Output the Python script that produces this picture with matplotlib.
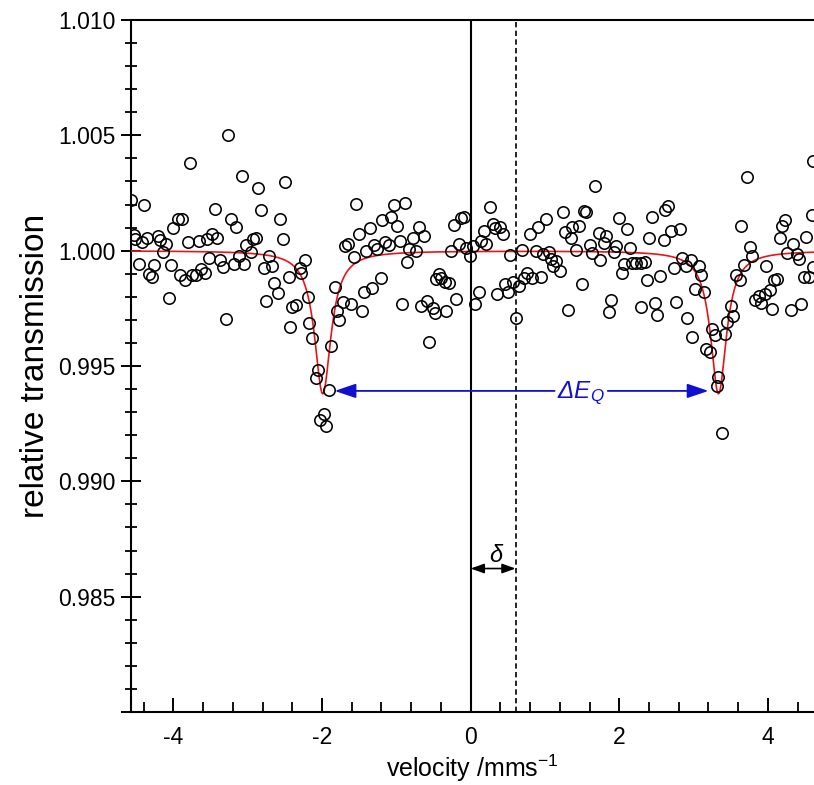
import numpy as np
import matplotlib
matplotlib.use("Agg")
import matplotlib.pyplot as plt
from matplotlib.ticker import MultipleLocator, FixedLocator, FuncFormatter

plt.rcParams['font.family'] = ['Liberation Sans', 'DejaVu Sans']
plt.rcParams['axes.unicode_minus'] = False
plt.rcParams['mathtext.fontset'] = 'custom'
plt.rcParams['mathtext.rm'] = 'Liberation Sans'
plt.rcParams['mathtext.it'] = 'Liberation Sans:italic'
plt.rcParams['mathtext.default'] = 'it'

# ---- measured data (velocity in mm/s, relative transmission) ----
velocity = [
    -3.267, -3.782, -3.073, -2.494, -2.857, -4.567, -4.397, -3.441, -2.822, -3.221,
    -3.159, -2.561, -3.943, -3.886, -4.001, -4.536, -4.513, -4.424, -4.352, -4.213,
    -4.182, -4.096, -4.145, -3.809, -3.661, -3.549, -3.481, -3.414, -3.019, -2.957,
    -2.930, -2.894, -2.530, -4.464, -4.257, -4.330, -4.284, -4.034, -3.912, -3.840,
    -3.746, -3.697, -3.634, -3.576, -3.522, -3.378, -3.328, -3.186, -3.118, -3.046,
    -2.786, -2.709, -2.669, -2.642, -2.598, -2.450, -2.750, -2.301, -2.279, -2.230,
    -2.405, -2.346, -4.065, -3.297, -2.194, -2.432, -2.176, -2.140, -1.830, -1.803,
    -1.767, -1.884, -2.059, -2.082, -1.911, -1.974, -2.028, -1.942,
    -1.548, -1.036, -0.879, 0.256, -1.692, -1.651, -1.575, -1.503, -1.359, -1.404,
    -1.301, -1.256, -1.148, -1.099, -1.188, -1.068, -0.992, -0.956, -0.700, -0.776,
    -0.628, -0.830, -0.736, -0.852, -0.260, -0.229, -0.135, -0.090, -0.157, -0.058,
    -0.004, 0.031, 0.175, 0.139, 0.211, 0.300, 0.332, 0.400, 0.431, 0.534,
    0.690, 0.794, 0.902, 1.013, 0.875, 0.974, 1.054, 1.081, 1.144, 1.108,
    1.198, -1.207, -1.323, -1.440, -1.723, -1.615, -1.467, -0.929, -0.673, -0.583,
    -0.507, -0.476, -0.336, -0.431, -0.462, -0.394, -0.346, -0.292, -0.193, 0.063,
    0.108, 0.359, 0.467, 0.502, 0.570, 0.650, 0.713, 0.763, 0.830, 0.942,
    0.615, -0.565,
    1.678, 3.724, 4.607, 1.243, 1.521, 1.557, 1.265, 1.369, 1.458, 1.355,
    1.413, 1.996, 2.109, 1.723, 1.817, 1.790, 2.445, 2.400, 2.598, 2.615,
    2.661, 2.701, 2.813, 1.611, 1.638, 1.746, 1.929, 1.961, 2.140, 2.032,
    2.059, 2.167, 2.221, 2.288, 2.346, 2.373, 2.544, 2.736, 2.840, 2.894,
    2.970, 3.073, 3.105, 3.015, 3.136, 1.494, 1.310, 1.893, 1.857, 2.292,
    2.476, 2.508, 2.768, 2.916, 2.983, 3.244, 3.284, 3.428, 3.163, 3.217,
    3.333, 3.315, 3.387, 3.499, 3.530, 3.455, 3.643, 3.755, 3.791, 3.678,
    3.576, 3.620, 3.980, 3.822, 3.881, 3.966, 4.034, 4.087, 4.123, 3.907,
    4.051, 4.195, 4.230, 4.159, 4.334, 4.262, 4.392, 4.419, 4.518, 4.482,
    4.553, 4.607, 4.311, 4.451, 4.599,
]
transmission = [
    1.00501, 1.00379, 1.00325, 1.00296, 1.00272, 1.00219, 1.00196, 1.00179, 1.00176, 1.00138,
    1.00104, 1.00137, 1.00136, 1.00137, 1.00098, 1.00069, 1.00050, 1.00037, 1.00056, 1.00063,
    1.00046, 1.00029, 0.99995, 1.00037, 1.00042, 1.00049, 1.00072, 1.00055, 1.00023, 0.99995,
    1.00050, 1.00055, 1.00052, 0.99942, 0.99939, 0.99897, 0.99887, 0.99938, 0.99893, 0.99872,
    0.99893, 0.99895, 0.99920, 0.99903, 0.99969, 0.99959, 0.99929, 0.99941, 0.99978, 0.99942,
    0.99926, 0.99977, 0.99933, 0.99861, 0.99816, 0.99885, 0.99781, 0.99926, 0.99902, 0.99958,
    0.99755, 0.99763, 0.99796, 0.99703, 0.99797, 0.99670, 0.99687, 0.99621, 0.99843, 0.99737,
    0.99699, 0.99585, 0.99482, 0.99446, 0.99394, 0.99294, 0.99268, 0.99239,
    1.00202, 1.00196, 1.00208, 1.00188, 1.00021, 1.00027, 0.99974, 1.00072, 1.00097, 1.00000,
    1.00024, 1.00008, 1.00037, 1.00023, 1.00131, 1.00146, 1.00107, 1.00043, 1.00101, 1.00053,
    1.00062, 1.00007, 0.99998, 0.99951, 1.00000, 1.00112, 1.00143, 1.00147, 1.00029, 1.00010,
    0.99978, 1.00020, 1.00086, 1.00043, 1.00027, 1.00115, 1.00099, 1.00104, 1.00071, 0.99982,
    1.00003, 1.00072, 1.00102, 1.00137, 0.99998, 0.99985, 0.99994, 0.99962, 0.99955, 0.99933,
    0.99912, 0.99881, 0.99836, 0.99822, 0.99778, 0.99767, 0.99738, 0.99767, 0.99758, 0.99781,
    0.99752, 0.99729, 0.99738, 0.99897, 0.99876, 0.99880, 0.99863, 0.99859, 0.99789, 0.99770,
    0.99822, 0.99812, 0.99855, 0.99820, 0.99865, 0.99848, 0.99880, 0.99902, 0.99882, 0.99884,
    0.99709, 0.99602,
    1.00281, 1.00320, 1.00390, 1.00166, 1.00173, 1.00166, 1.00082, 1.00104, 1.00107, 1.00053,
    1.00003, 1.00143, 1.00092, 1.00078, 1.00063, 1.00032, 1.00144, 1.00055, 1.00046, 1.00176,
    1.00193, 1.00086, 1.00095, 1.00024, 0.99991, 0.99958, 0.99993, 1.00021, 1.00010, 0.99902,
    0.99942, 0.99945, 0.99945, 0.99948, 0.99949, 0.99872, 0.99890, 0.99926, 0.99968, 0.99935,
    0.99958, 0.99933, 0.99894, 0.99832, 0.99822, 0.99855, 0.99742, 0.99786, 0.99732, 0.99755,
    0.99771, 0.99721, 0.99778, 0.99708, 0.99627, 0.99659, 0.99635, 0.99637, 0.99573, 0.99562,
    0.99453, 0.99413, 0.99208, 0.99761, 0.99716, 0.99692, 1.00107, 1.00017, 0.99977, 0.99936,
    0.99894, 0.99872, 0.99933, 0.99786, 0.99803, 0.99812, 0.99829, 0.99872, 0.99878, 0.99774,
    0.99748, 1.00107, 1.00133, 1.00053, 1.00029, 0.99991, 0.99985, 0.99962, 1.00060, 0.99887,
    0.99887, 0.99930, 0.99742, 0.99768, 1.00154,
]

# ---- fit parameters (Lorentzian doublet) ----
peak_centers = [-1.99, 3.335]
peak_depths = [0.0062, 0.0062]
peak_hwhm = [0.135, 0.13]
baseline = 1.0

isomer_shift = 0.605      # dashed line position (delta)
zero_velocity = 0.0

x_ticks_major = [-4, -2, 0, 2, 4]
y_ticks_major = [0.980, 0.985, 0.990, 0.995, 1.000, 1.005, 1.010]
y_tick_labels = ['', '0.985', '0.990', '0.995', '1.000', '1.005', '1.010']

fig = plt.figure(figsize=(8.14, 7.85), dpi=100)
ax = fig.add_axes([131/814, 1-712/785, (814-131)/814, (712-20)/785])

ax.set_xlim(-4.57, 4.62)
ax.set_ylim(0.980, 1.010)

# reference lines
ax.axvline(zero_velocity, color='black', lw=1.5, zorder=2)
ax.axvline(isomer_shift, color='black', lw=1.2, ls=(0, (3.2, 2.0)), zorder=2)

# fit curve
xf = np.linspace(-4.57, 4.62, 4000)
yf = np.full_like(xf, baseline)
for c, d, g in zip(peak_centers, peak_depths, peak_hwhm):
    yf -= d / (1 + ((xf - c) / g) ** 2)
ax.plot(xf, yf, color='#e8141b', lw=1.2, zorder=3)

# data points
ax.plot(velocity, transmission, ls='none', marker='o', ms=8.2, mfc='none',
        mec='black', mew=1.15, zorder=4, clip_on=True)

# quadrupole splitting arrow
blue = '#1010d0'
yq = 0.99392
ap = dict(arrowstyle='-|>,head_length=0.65,head_width=0.22', color=blue, lw=1.3,
          shrinkA=0, shrinkB=0, mutation_scale=20)
ax.annotate('', xy=(-1.83, yq), xytext=(1.13, yq), arrowprops=ap, zorder=5)
ax.annotate('', xy=(3.20, yq), xytext=(1.845, yq), arrowprops=ap, zorder=5)
ax.text(1.16, 0.99361, 'ΔE$_Q$', color=blue, fontsize=17.5, fontstyle='italic',
        ha='left', va='baseline', zorder=6)

# isomer shift arrow
yd = 0.98622
apd = dict(arrowstyle='<|-|>,head_length=0.5,head_width=0.18', color='black', lw=1.2,
           shrinkA=0, shrinkB=0, mutation_scale=16)
ax.annotate('', xy=(zero_velocity, yd), xytext=(isomer_shift, yd), arrowprops=apd, zorder=5)
ax.text(0.336, 0.98680, 'δ', fontsize=17, fontstyle='italic', ha='center', va='center')

# axes styling
for side in ['left', 'bottom', 'top']:
    ax.spines[side].set_linewidth(1.5)
ax.spines['right'].set_visible(False)

ax.xaxis.set_major_locator(FixedLocator(x_ticks_major))
ax.xaxis.set_minor_locator(MultipleLocator(0.4))
ax.yaxis.set_major_locator(FixedLocator(y_ticks_major))
ax.yaxis.set_major_formatter(FuncFormatter(lambda v, p: y_tick_labels[int(round((v - 0.980) / 0.005))]))
ax.yaxis.set_minor_locator(MultipleLocator(0.001))

ax.tick_params(axis='x', which='major', direction='in', length=10, width=1.4,
               labelsize=16.5, pad=10, top=False)
ax.tick_params(axis='x', which='minor', direction='in', length=7, width=1.3, top=False)
ax.tick_params(axis='y', which='major', direction='inout', length=14, width=1.4,
               labelsize=16.5, pad=4, right=False)
ax.tick_params(axis='y', which='minor', direction='inout', length=9, width=1.3, right=False)

ax.set_xlabel('velocity /mms$^{\\mathregular{-1}}$', fontsize=18, labelpad=3)
ax.set_ylabel('relative transmission', fontsize=24, labelpad=5)

fig.savefig('out.png', dpi=100)
